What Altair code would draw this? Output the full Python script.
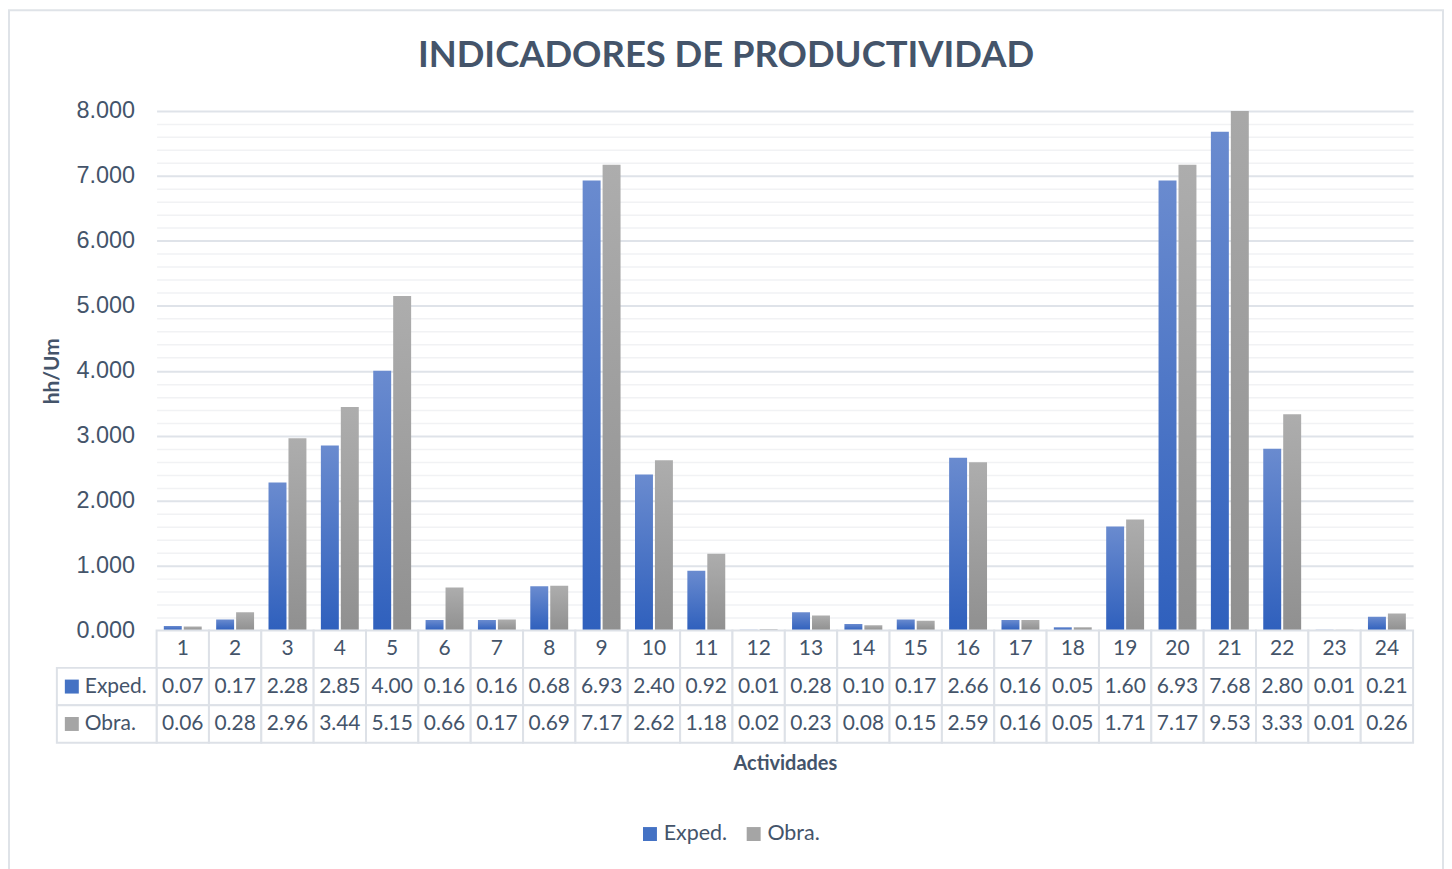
import altair as alt
import pandas as pd

categories = [str(i) for i in range(1, 25)]
exped = [0.07, 0.17, 2.28, 2.85, 4.00, 0.16, 0.16, 0.68, 6.93, 2.40, 0.92, 0.01,
         0.28, 0.10, 0.17, 2.66, 0.16, 0.05, 1.60, 6.93, 7.68, 2.80, 0.01, 0.21]
obra = [0.06, 0.28, 2.96, 3.44, 5.15, 0.66, 0.17, 0.69, 7.17, 2.62, 1.18, 0.02,
        0.23, 0.08, 0.15, 2.59, 0.16, 0.05, 1.71, 7.17, 9.53, 3.33, 0.01, 0.26]
series = ["Exped.", "Obra."]
rows = ["hdr", "Exped.", "Obra."]
y_ticks = [round(i * 0.2, 1) for i in range(41)]

TXT = "#44546a"
GRID = "#dde1e7"
FONT = "Lato"

long_rows = []
for c, e, o in zip(categories, exped, obra):
    long_rows.append({"cat": c, "series": "Exped.", "value": e})
    long_rows.append({"cat": c, "series": "Obra.", "value": o})
df = pd.DataFrame(long_rows)

tab_rows = []
for c, e, o in zip(categories, exped, obra):
    tab_rows.append({"cat": c, "row": "hdr", "label": c})
    tab_rows.append({"cat": c, "row": "Exped.", "label": f"{e:.2f}"})
    tab_rows.append({"cat": c, "row": "Obra.", "label": f"{o:.2f}"})
df_tab = pd.DataFrame(tab_rows)
df_lab = pd.DataFrame({"row": series, "series": series})

blue_grad = alt.Gradient(gradient="linear", x1=0, x2=0, y1=0, y2=1,
                         stops=[alt.GradientStop(color="#6a8bcf", offset=0),
                                alt.GradientStop(color="#2f60bd", offset=1)])
grey_grad = alt.Gradient(gradient="linear", x1=0, x2=0, y1=0, y2=1,
                         stops=[alt.GradientStop(color="#adadad", offset=0),
                                alt.GradientStop(color="#909090", offset=1)])

x_bar = alt.X("cat:N", sort=categories,
              scale=alt.Scale(domain=categories, paddingInner=0.276, paddingOuter=0.138),
              axis=None)
xo = alt.XOffset("series:N", scale=alt.Scale(domain=series, paddingInner=0.1, paddingOuter=0))
y_bar = alt.Y("value:Q",
              scale=alt.Scale(domain=[0, 8], nice=False, zero=True),
              axis=alt.Axis(values=y_ticks,
                            labelExpr="datum.value % 1 === 0 ? format(datum.value, '.3f') : ''",
                            grid=True,
                            gridColor={"condition": {"test": "datum.value % 1 === 0", "value": "#dfe3e9"},
                                       "value": "#f1f2f4"},
                            gridWidth={"condition": {"test": "datum.value % 1 === 0", "value": 2},
                                       "value": 1.5},
                            ticks=False, domain=False, labelOverlap=False, labelFlush=False,
                            labelFont="Liberation Sans", labelFontSize=23.5, labelColor=TXT,
                            labelPadding=22,
                            title="hh/Um", titleFont=FONT, titleFontSize=21,
                            titleFontWeight="bold", titleColor=TXT, titlePadding=14))

frame = alt.Chart(alt.Data(values=[{}])).mark_rect(
    fill="transparent", stroke="#dfe3e8", strokeWidth=2
).encode(x=alt.value(-148), x2=alt.value(1290), y=alt.value(-101), y2=alt.value(770))

bars_e = alt.Chart(df).transform_filter("datum.series == 'Exped.'").mark_bar(
    color=blue_grad, clip=True).encode(x=x_bar, xOffset=xo, y=y_bar)
bars_o = alt.Chart(df).transform_filter("datum.series == 'Obra.'").mark_bar(
    color=grey_grad, clip=True).encode(x=x_bar, xOffset=xo, y=y_bar)

top = alt.layer(frame, bars_e, bars_o).properties(width=1260, height=521)

x_tab = alt.X("cat:N", sort=categories,
              scale=alt.Scale(domain=categories, paddingInner=0, paddingOuter=0),
              axis=alt.Axis(labels=False, ticks=False, domain=False, grid=False,
                            title="Actividades", titleFont=FONT, titleFontSize=20,
                            titleFontWeight="bold", titleColor=TXT, titlePadding=11))
y_tab = alt.Y("row:N", scale=alt.Scale(domain=rows, paddingInner=0, paddingOuter=0), axis=None)

cells = alt.Chart(df_tab).mark_rect(fill="white", stroke=GRID, strokeWidth=2).encode(x=x_tab, y=y_tab)
texts = alt.Chart(df_tab).mark_text(font=FONT, fontSize=21, color=TXT).encode(
    x=x_tab, y=y_tab, text="label:N")
lab_cells = alt.Chart(df_lab).mark_rect(fill="white", stroke=GRID, strokeWidth=2).encode(
    x=alt.value(-100), x2=alt.value(0), y=y_tab)
swatch = alt.Chart(df_lab).mark_square(size=196, opacity=1).encode(
    x=alt.value(-85), y=y_tab,
    color=alt.Color("series:N",
                    scale=alt.Scale(domain=series, range=["#4472c4", "#a5a5a5"]),
                    legend=alt.Legend(orient="none", legendX=484, legendY=714,
                                      direction="horizontal", title=None,
                                      symbolType="square", symbolSize=196,
                                      symbolStrokeWidth=0, labelFont=FONT,
                                      labelFontSize=21.5, labelColor=TXT,
                                      labelOffset=3, columnPadding=15, padding=0)))
lab_text = alt.Chart(df_lab).mark_text(font=FONT, fontSize=21, color=TXT, align="left").encode(
    x=alt.value(-72), y=y_tab, text="row:N")

bottom = alt.layer(cells, texts, lab_cells, swatch, lab_text).properties(width=1260, height=112.5)

chart = alt.vconcat(top, bottom, spacing=0, bounds="flush").properties(
    title=alt.TitleParams("INDICADORES DE PRODUCTIVIDAD", font=FONT, fontSize=36.5,
                          fontWeight="bold", color=TXT, anchor="middle", offset=-65),
    padding=0, background="white"
).configure_view(strokeWidth=0)

chart.save("out.html", embed_options={"renderer": "svg", "actions": False})
